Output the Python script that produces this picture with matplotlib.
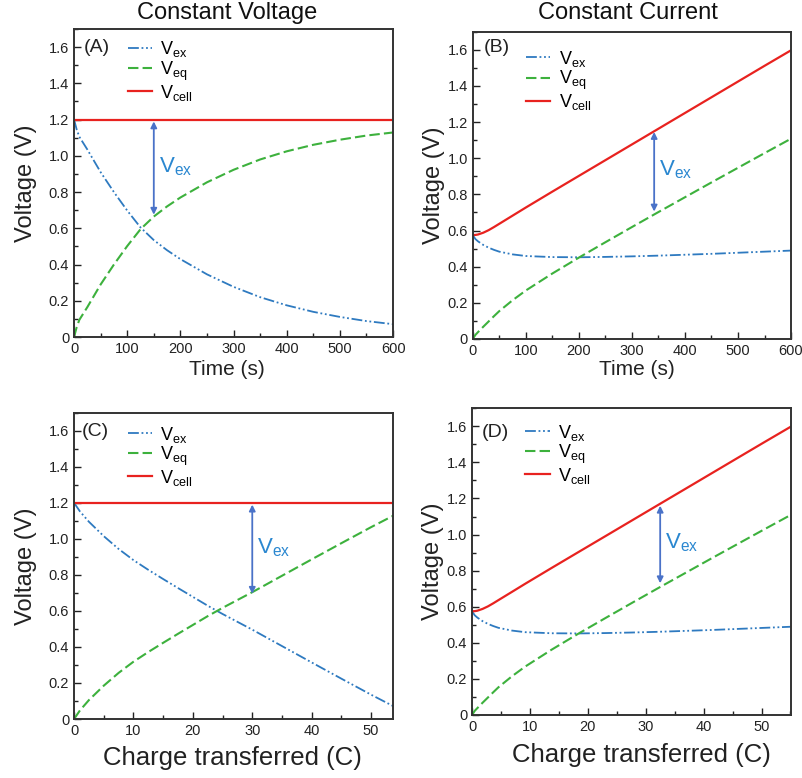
import numpy as np
import matplotlib
matplotlib.use('Agg')
import matplotlib.pyplot as plt
from matplotlib.ticker import MultipleLocator

plt.rcParams['font.family'] = ['Liberation Sans', 'DejaVu Sans']
plt.rcParams['mathtext.default'] = 'regular'

# constant voltage, vs time (s)
cv_time = [0, 5, 10, 25, 50, 75, 100, 125, 150, 175, 200, 250, 300, 350, 400, 450, 500, 550, 600]
cv_vex = [1.20, 1.145, 1.105, 1.035, 0.91, 0.80, 0.698, 0.605, 0.535, 0.479, 0.430, 0.346, 0.277,
          0.220, 0.175, 0.139, 0.111, 0.088, 0.071]
cv_veq = [0.0, 0.055, 0.095, 0.165, 0.29, 0.40, 0.502, 0.595, 0.665, 0.721, 0.770, 0.854, 0.923,
          0.980, 1.025, 1.061, 1.089, 1.112, 1.129]
cv_vcell = 1.2

# constant voltage, vs charge (C)
cv_charge = [0, 1, 2.5, 5, 7.5, 10, 12.5, 15, 17.5, 20, 22.5, 25, 30, 35, 40, 45, 50, 53.7]
cvq_vex = [1.20, 1.152, 1.095, 1.015, 0.944, 0.882, 0.828, 0.777, 0.727, 0.678, 0.629, 0.583,
           0.496, 0.405, 0.314, 0.224, 0.135, 0.072]
cvq_veq = [0.0, 0.048, 0.105, 0.185, 0.256, 0.318, 0.372, 0.423, 0.473, 0.522, 0.571, 0.617,
           0.704, 0.795, 0.886, 0.976, 1.065, 1.128]

# constant current, vs time (s)
cc_time = [0, 5, 10, 20, 30, 40, 50, 75, 100, 150, 200, 250, 300, 350, 400, 450, 500, 550, 600]
cc_vcell = [0.575, 0.5755, 0.578, 0.588, 0.602, 0.619, 0.637, 0.682, 0.727, 0.815, 0.902, 0.989,
            1.076, 1.163, 1.25, 1.337, 1.424, 1.511, 1.597]
cc_vex = [0.575, 0.553, 0.540, 0.520, 0.505, 0.493, 0.483, 0.468, 0.459, 0.453, 0.452, 0.454,
          0.457, 0.461, 0.466, 0.471, 0.477, 0.483, 0.489]
cc_veq = [0.0, 0.0225, 0.038, 0.068, 0.097, 0.126, 0.154, 0.214, 0.268, 0.362, 0.45, 0.535,
          0.619, 0.702, 0.784, 0.866, 0.947, 1.028, 1.108]
# charge passed at the same instants (constant current)
cc_charge = [0, 0.46, 0.92, 1.83, 2.75, 3.67, 4.58, 6.88, 9.17, 13.75, 18.33, 22.92, 27.5, 32.08,
             36.67, 41.25, 45.83, 50.42, 55.0]

c_ex = '#2e7ac0'
c_eq = '#3db13d'
c_cell = '#e8221f'
c_arrow = '#4a72c8'
c_text = '#2a87d0'
ink = '#222222'

fig = plt.figure(figsize=(8.03, 7.78), dpi=100)

panels = [
    # x, vex, veq, vcell, rect, xmax, major, minor, tag, xlabel, arrow, tag pos, legend top, ylabel x, xlabel pos
    (cv_time, cv_vex, cv_veq, [cv_vcell] * len(cv_time), [0.0922, 0.5668, 0.3973, 0.3959], 600, 100, 50,
     '(A)', 'Time (s)', (150, 1.19, 0.675), (0.072, 0.94), 0.99, -0.150, (0.48, -0.105)),
    (cc_time, cc_vex, cc_veq, cc_vcell, [0.5887, 0.5643, 0.3964, 0.3950], 600, 100, 50,
     '(B)', 'Time (s)', (342, 1.145, 0.705), (0.076, 0.95), 0.968, -0.122, (0.515, -0.099)),
    (cv_charge, cvq_vex, cvq_veq, [cv_vcell] * len(cv_charge), [0.0922, 0.0758, 0.3973, 0.3937], 53.7, 10, 5,
     '(C)', 'Charge transferred (C)', (30, 1.19, 0.695), (0.066, 0.938), 0.985, -0.150, (0.497, -0.127)),
    (cc_charge, cc_vex, cc_veq, cc_vcell, [0.5878, 0.0810, 0.3973, 0.3942], 55.1, 10, 5,
     '(D)', 'Charge transferred (C)', (32.5, 1.16, 0.73), (0.072, 0.92), 0.977, -0.122, (0.53, -0.130)),
]

for (xs, vex, veq, vcell, rect, xmax, major, minor, tag, xlab, arr, tagpos, legy, ylx, xlpos) in panels:
    ax = fig.add_axes(rect)
    ax.plot(xs, vex, color=c_ex, lw=1.3, ls=(0, (6, 1.5, 1, 1.5, 1, 1.5)), label='V$_{ex}$')
    ax.plot(xs, veq, color=c_eq, lw=1.5, ls=(0, (5, 2)), label='V$_{eq}$')
    ax.plot(xs, vcell, color=c_cell, lw=1.6, label='V$_{cell}$')

    ax.annotate('', xy=(arr[0], arr[2]), xytext=(arr[0], arr[1]),
                arrowprops=dict(arrowstyle='<|-|>', color=c_arrow, lw=1.3,
                                mutation_scale=9, shrinkA=0, shrinkB=0))
    ax.text(arr[0] + 0.015 * xmax, (arr[1] + arr[2]) / 2 + 0.01, 'V$_{ex}$', color=c_text,
            fontsize=16, ha='left', va='center')

    ax.set_xlim(0, xmax)
    ax.set_ylim(0, 1.7)
    ax.xaxis.set_major_locator(MultipleLocator(major))
    ax.xaxis.set_minor_locator(MultipleLocator(minor))
    ax.yaxis.set_minor_locator(MultipleLocator(0.1))
    ax.set_yticks(np.arange(0, 1.61, 0.2))
    ax.set_yticklabels(['0', '0.2', '0.4', '0.6', '0.8', '1.0', '1.2', '1.4', '1.6'])
    ax.tick_params(which='both', direction='in', colors=ink, labelsize=10.5, width=1.0)
    ax.tick_params(which='major', length=5)
    ax.tick_params(which='minor', length=3)
    for s in ax.spines.values():
        s.set_color('#333333')
        s.set_linewidth(1.4)

    ax.set_ylabel('Voltage (V)', fontsize=17, color=ink, va='center')
    ax.yaxis.set_label_coords(ylx, 0.5)
    fs = 18.5 if 'Charge' in xlab else 15
    ax.set_xlabel(xlab, fontsize=fs, color=ink, va='center')
    ax.xaxis.set_label_coords(*xlpos)

    ax.text(tagpos[0], tagpos[1], tag, transform=ax.transAxes, fontsize=14, color=ink,
            ha='center', va='center')
    ax.legend(loc='upper left', bbox_to_anchor=(0.145, legy), frameon=False, fontsize=13,
              handlelength=1.35, handletextpad=0.45, labelspacing=0.0, borderaxespad=0)

fig.text(0.283, 0.983, 'Constant Voltage', fontsize=17, ha='center', va='center', color='#111111')
fig.text(0.782, 0.983, 'Constant Current', fontsize=17, ha='center', va='center', color='#111111')

fig.savefig('out.png', dpi=100)
